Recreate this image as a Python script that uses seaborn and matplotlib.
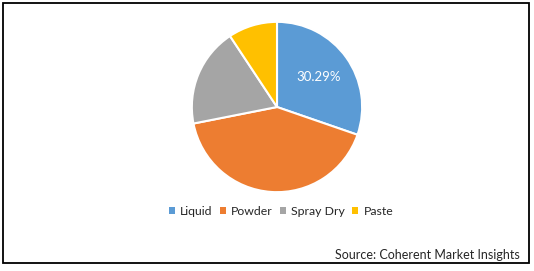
import matplotlib
matplotlib.use("Agg")
import matplotlib.pyplot as plt
import matplotlib.patches as mpatches
import seaborn as sns

categories = ["Liquid", "Powder", "Spray Dry", "Paste"]
shares = [30.29, 41.6, 18.8, 9.31]
colors = ["#5B9BD5", "#ED7D31", "#A5A5A5", "#FFC000"]
source_text = "Source: Coherent Market Insights"

sns.set_theme(style="white")
plt.rcParams['font.family'] = ['Lato', 'DejaVu Sans']

W, H = 534, 271
fig = plt.figure(figsize=(W / 100, H / 100), dpi=100)
fig.patch.set_facecolor("white")

cx, cy, r = 277, 107, 86
ax = fig.add_axes([(cx - r) / W, (H - cy - r) / H, 2 * r / W, 2 * r / H])
wedges, texts, autotexts = ax.pie(
    shares, colors=colors, startangle=90, counterclock=False,
    autopct=lambda p: "", pctdistance=0.6,
    wedgeprops=dict(edgecolor="white", linewidth=1.5),
)
autotexts[0].set_text(f"{shares[0]:.2f}%")
autotexts[0].set_color("white")
autotexts[0].set_fontsize(9.5)
ax.set_xlim(-1.01, 1.01)
ax.set_ylim(-1.01, 1.01)
ax.set_aspect("equal")
ax.axis("off")

handles = [mpatches.Patch(facecolor=c, edgecolor="none", label=l) for c, l in zip(colors, categories)]
fig.legend(handles=handles, loc="center", bbox_to_anchor=(281 / W, 1 - 211.5 / H),
           ncol=4, frameon=False, fontsize=8.8, handlelength=0.5, handleheight=0.5,
           handletextpad=0.45, columnspacing=0.55, labelcolor="#262626")

fig.text(520 / W, 1 - 259 / H, source_text, ha="right", va="baseline", fontsize=9, color="#262626")

border = mpatches.Rectangle((3 / W, 1 - 263 / H), (529 - 3) / W, (263 - 3) / H,
                            transform=fig.transFigure, fill=False, edgecolor="black", linewidth=1.3)
fig.patches.append(border)

fig.savefig("out.png", dpi=100, facecolor="white")
